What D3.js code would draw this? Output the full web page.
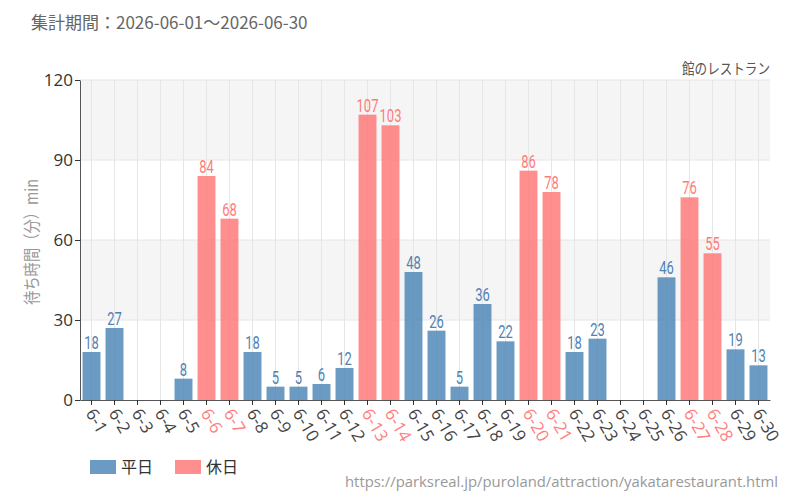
<!DOCTYPE html>
<html><head><meta charset="utf-8">
<script src="https://cdn.jsdelivr.net/npm/d3@7"></script>
<style>body{margin:0;background:#fff}svg{display:block}</style>
</head><body><svg id="c" width="800" height="500"></svg>
<script>
const categories = ["6-1","6-2","6-3","6-4","6-5","6-6","6-7","6-8","6-9","6-10","6-11","6-12","6-13","6-14","6-15","6-16","6-17","6-18","6-19","6-20","6-21","6-22","6-23","6-24","6-25","6-26","6-27","6-28","6-29","6-30"];
const values = [18,27,null,null,8,84,68,18,5,5,6,12,107,103,48,26,5,36,22,86,78,18,23,null,null,46,76,55,19,13];
const holidays = ["6-6","6-7","6-13","6-14","6-20","6-21","6-27","6-28"];
const yTicks = [0,30,60,90,120];
const seriesNames = ["平日","休日"];
const titleText = "集計期間：2026-06-01～2026-06-30";
const subtitleText = "館のレストラン";
const yLabel = "待ち時間（分）min";
const sourceText = "https://parksreal.jp/puroland/attraction/yakatarestaurant.html";

const FONT = "'Noto Sans CJK JP','Noto Sans',sans-serif";
const LATIN = "'Open Sans','Noto Sans',sans-serif";
const BLUE = "#4682b4", PINK = "#ff7373";
const BLUE_T = "#4f81b3", PINK_T = "#ff7b7b";
const svg = d3.select("#c");
const m = {l:80, r:30, t:80, b:100};
const W = 800 - m.l - m.r, H = 500 - m.t - m.b;
const x = d3.scaleBand().domain(categories).range([m.l, m.l+W]).paddingInner(0.22).paddingOuter(0.11);
const y = d3.scaleLinear().domain([0,120]).range([m.t+H, m.t]);
const isHol = c => holidays.includes(c);

// bands
const bandPairs = [[30,60],[90,120]];
svg.append("g").selectAll("rect").data(bandPairs).join("rect")
  .attr("x", m.l).attr("width", W)
  .attr("y", d => y(d[1])).attr("height", d => y(d[0]) - y(d[1]))
  .attr("fill", "#f5f5f5");
// grid
svg.append("g").selectAll("line").data(yTicks.slice(1)).join("line")
  .attr("x1", m.l).attr("x2", m.l+W).attr("y1", d=>y(d)).attr("y2", d=>y(d))
  .attr("stroke", "#e6e6e6").attr("stroke-width", 1);
svg.append("g").selectAll("line").data(categories).join("line")
  .attr("x1", d => x(d)+x.bandwidth()/2).attr("x2", d => x(d)+x.bandwidth()/2)
  .attr("y1", m.t).attr("y2", m.t+H)
  .attr("stroke", "#e6e6e6").attr("stroke-width", 1);

// bars
const data = categories.map((c,i)=>({c, v: values[i]})).filter(d => d.v != null);
svg.append("g").selectAll("rect").data(data).join("rect")
  .attr("x", d => x(d.c)).attr("width", x.bandwidth())
  .attr("y", d => y(d.v)).attr("height", d => y(0) - y(d.v))
  .attr("fill", d => isHol(d.c) ? PINK : BLUE).attr("fill-opacity", 0.8);
svg.append("g").selectAll("text").data(data).join("text")
  .attr("transform", d => `translate(${x(d.c)+x.bandwidth()/2},${y(d.v)-3}) scale(0.72,1)`)
  .attr("text-anchor","middle")
  .attr("font-family", "Roboto, sans-serif").attr("font-size", 18)
  .attr("fill", d => isHol(d.c) ? PINK_T : BLUE_T)
  .text(d => d.v);

// axes
const ya = svg.append("g").attr("transform", `translate(${m.l},0)`)
  .call(d3.axisLeft(y).tickValues(yTicks).tickSize(5).tickSizeOuter(0));
ya.select(".domain").attr("stroke", "#555");
ya.selectAll(".tick line").attr("stroke", "#333");
ya.selectAll(".tick text").attr("font-family", LATIN).attr("font-size", 17).attr("fill", "#333").attr("x", -7);

const xa = svg.append("g").attr("transform", `translate(0,${m.t+H})`)
  .call(d3.axisBottom(x).tickSize(5).tickSizeOuter(0));
xa.select(".domain").attr("stroke", "#555");
xa.selectAll(".tick line").attr("stroke", "#333");
xa.selectAll(".tick text")
  .attr("font-family", LATIN).attr("font-size", 17)
  .attr("fill", d => isHol(d) ? "#ff8080" : "#444")
  .attr("text-anchor", "start").attr("dy", "0.35em")
  .attr("x", 0).attr("y", 0)
  .attr("transform", "translate(-1,10) rotate(60)");

// titles
svg.append("text").attr("x", 31).attr("y", 29).attr("font-family", FONT).attr("font-size", 17).attr("fill", "#666").text(titleText);
svg.append("text").attr("x", m.l+W).attr("y", 74).attr("text-anchor","end")
  .attr("textLength", 88).attr("lengthAdjust", "spacingAndGlyphs")
  .attr("font-family", FONT).attr("font-size", 15).attr("fill", "#555").text(subtitleText);
svg.append("text").attr("transform", `translate(38,${m.t+H/2+2}) rotate(-90)`).attr("text-anchor","middle")
  .attr("textLength", 126).attr("lengthAdjust", "spacingAndGlyphs")
  .attr("font-family", FONT).attr("font-size", 17).attr("fill", "#999").text(yLabel);

// legend
const lg = svg.append("g");
const lx = [90, 175];
seriesNames.forEach((n,i) => {
  lg.append("rect").attr("x", lx[i]).attr("y", 460).attr("width", 26).attr("height", 14)
    .attr("fill", i===0 ? BLUE : PINK).attr("fill-opacity", 0.8);
  lg.append("text").attr("x", lx[i]+31).attr("y", 473).attr("font-family", FONT).attr("font-size", 16).attr("fill", "#333").text(n);
});
svg.append("text").attr("x", 778).attr("y", 487).attr("text-anchor","end")
  .attr("textLength", 433).attr("lengthAdjust", "spacingAndGlyphs")
  .attr("font-family", LATIN).attr("font-size", 15).attr("fill", "#999").text(sourceText);
</script></body></html>
